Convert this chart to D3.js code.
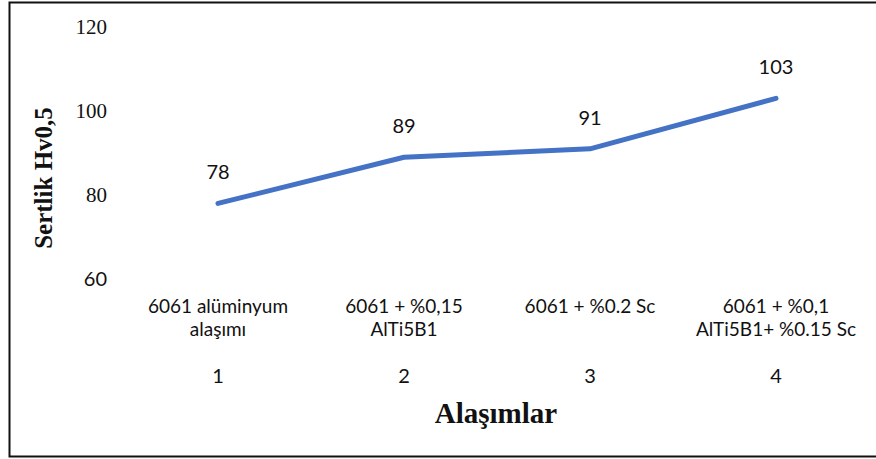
<!DOCTYPE html>
<html>
<head>
<meta charset="utf-8">
<script src="https://cdn.jsdelivr.net/npm/d3@7"></script>
<style>
  html, body { margin: 0; padding: 0; background: #fff; }
  svg { display: block; }
</style>
</head>
<body>
<svg id="chart" width="876" height="459"></svg>
<script>
const indices = [1, 2, 3, 4];
const categoryLines = [
  ["6061 alüminyum", "alaşımı"],
  ["6061 + %0,15", "AlTi5B1"],
  ["6061 + %0.2 Sc"],
  ["6061 + %0,1", "AlTi5B1+ %0.15 Sc"]
];
const values = [78, 89, 91, 103];
const yTicks = [60, 80, 100, 120];
const yTitle = "Sertlik Hv0,5";
const xTitle = "Alaşımlar";

const svg = d3.select("#chart");

// frame
svg.append("path")
  .attr("d", "M876,2.5 H9.5 V456.5 H876")
  .attr("fill", "none")
  .attr("stroke", "#111")
  .attr("stroke-width", 2);

const x = d3.scalePoint().domain(indices).range([218, 776]);
const y = d3.scaleLinear().domain([60, 120]).range([279, 27]);

// y tick labels (no axis line)
const yAxis = d3.axisLeft(y).tickValues(yTicks).tickSize(0).tickPadding(0);
const gy = svg.append("g").attr("transform", "translate(107,0)").call(yAxis);
gy.select(".domain").remove();
gy.selectAll("text")
  .attr("fill", "#111")
  .style("font-family", d => d === 60 ? "Lato, 'Open Sans', sans-serif" : "'Liberation Serif', 'DejaVu Serif', serif")
  .style("font-size", d => d === 60 ? "20px" : "21px");

// line
const line = d3.line().x((d, i) => x(indices[i])).y(d => y(d));
svg.append("path")
  .datum(values)
  .attr("d", line)
  .attr("fill", "none")
  .attr("stroke", "#4472C4")
  .attr("stroke-width", 5)
  .attr("stroke-linecap", "round")
  .attr("stroke-linejoin", "round");

// data labels
svg.append("g").selectAll("text")
  .data(values)
  .join("text")
  .attr("x", (d, i) => x(indices[i]))
  .attr("y", d => y(d) - 24)
  .attr("text-anchor", "middle")
  .attr("fill", "#111")
  .style("font-family", "Lato, 'Open Sans', sans-serif")
  .style("font-size", "20px")
  .text(d => d);

// category labels
const cat = svg.append("g");
categoryLines.forEach((lines, i) => {
  const t = cat.append("text")
    .attr("x", x(indices[i]))
    .attr("y", 313)
    .attr("text-anchor", "middle")
    .attr("fill", "#111")
    .style("font-family", "Lato, 'Open Sans', sans-serif")
    .style("font-size", "19px");
  lines.forEach((l, j) => {
    t.append("tspan").attr("x", x(indices[i])).attr("dy", j === 0 ? 0 : 23).text(l);
  });
});

// index numbers
svg.append("g").selectAll("text")
  .data(indices)
  .join("text")
  .attr("x", d => x(d))
  .attr("y", 383)
  .attr("text-anchor", "middle")
  .attr("fill", "#111")
  .style("font-family", "Lato, 'Open Sans', sans-serif")
  .style("font-size", "20px")
  .text(d => d);

// axis titles
svg.append("text")
  .attr("x", 496)
  .attr("y", 423)
  .attr("text-anchor", "middle")
  .attr("fill", "#111")
  .style("font-family", "'Liberation Serif', 'DejaVu Serif', serif")
  .style("font-weight", "bold")
  .style("font-size", "29px")
  .text(xTitle);

svg.append("text")
  .attr("transform", "translate(52,178) rotate(-90)")
  .attr("text-anchor", "middle")
  .attr("fill", "#111")
  .style("font-family", "'Liberation Serif', 'DejaVu Serif', serif")
  .style("font-weight", "bold")
  .style("font-size", "25px")
  .text(yTitle);
</script>
</body>
</html>
